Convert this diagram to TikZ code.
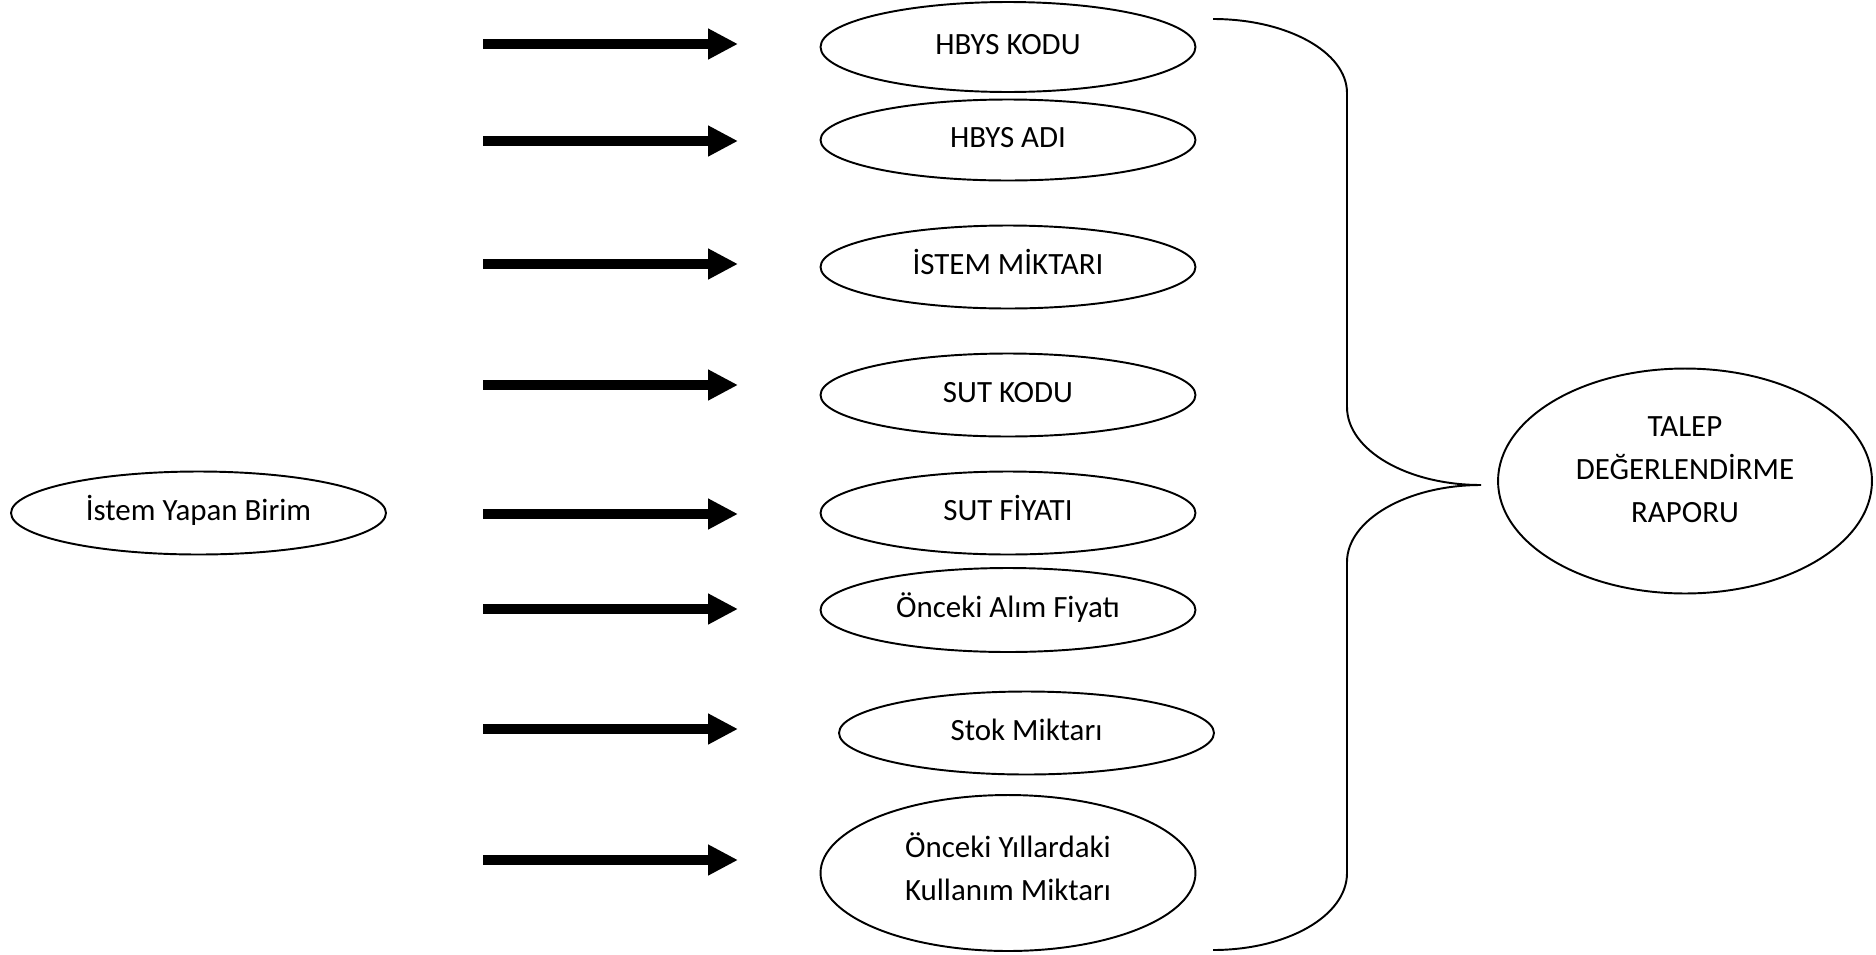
\documentclass[tikz,border=0pt]{standalone}
\usepackage{fontspec}
\setmainfont{Carlito}
\usetikzlibrary{shapes.geometric,arrows.meta}
\begin{document}
\begin{tikzpicture}[x=0.02cm,y=-0.02cm,
    every node/.style={font=\fontsize{17.6}{24.5}\selectfont},
    oval/.style={draw,ellipse,line width=1.1pt,inner sep=0pt,minimum width=7.5cm,minimum height=1.66cm,align=center},
    oneline/.style={oval,text height=0.45cm,text depth=0.17cm},
    bigarrow/.style={line width=0.2cm,-{Triangle[length=0.6cm,width=0.58cm]}}]
    \useasboundingbox (0,0) rectangle (1876,954);

    \node[oneline] (birim) at (198.5,513) {İstem Yapan Birim};

    \node[oneline,minimum height=1.8cm] (hbyskodu) at (1008,47) {HBYS KODU};
    \node[oneline,minimum height=1.62cm] (hbysadi) at (1008,140) {HBYS ADI};
    \node[oneline] (istem) at (1008,267) {İSTEM MİKTARI};
    \node[oneline] (sutkodu) at (1008,395) {SUT KODU};
    \node[oneline] (sutfiyat) at (1008,513) {SUT FİYATI};
    \node[oneline,minimum height=1.68cm] (alim) at (1008,610) {Önceki Alım Fiyatı};
    \node[oneline] (stok) at (1026.5,733) {Stok Miktarı};
    \node[oval,minimum height=3.12cm,text depth=0.25cm] (yillar) at (1008,873) {Önceki Yıllardaki\\Kullanım Miktarı};

    \node[oval,minimum width=7.48cm,minimum height=4.5cm,text depth=0.45cm] (talep) at (1685,481) {TALEP\\DEĞERLENDİRME\\RAPORU};

    \foreach \y [count=\i] in {44,141,264,385,514,609,729,860} {
      \coordinate (s\i) at (483,\y);
      \coordinate (e\i) at (738,\y);
      \draw[bigarrow] (s\i) -- (e\i);
    }

    \coordinate (tip) at (1481,485);
    \draw[line width=1.1pt] (1213,19) .. controls (1287,19) and (1347,52) .. (1347,93)
    -- (1347,407) .. controls (1347,450) and (1407,485) .. (tip)
    .. controls (1407,485) and (1347,520) .. (1347,562)
    -- (1347,873) .. controls (1347,916) and (1287,950) .. (1213,950);
\end{tikzpicture}
\end{document}
